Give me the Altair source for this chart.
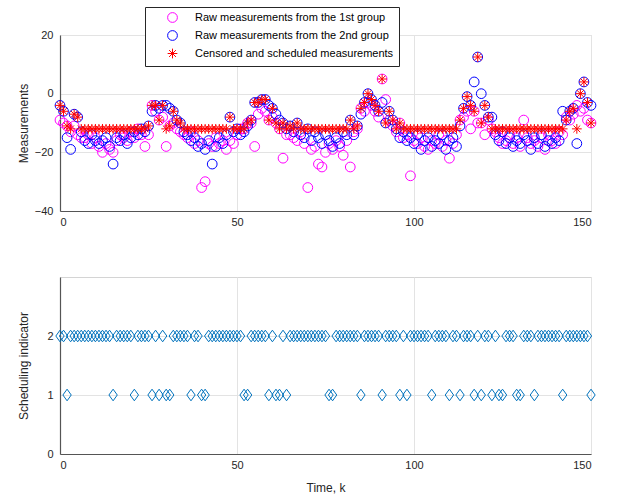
import altair as alt
import pandas as pd

# ---------------- data ----------------
k = list(range(151))

group1 = [
    -9, -10, -11, -13, -11, -14, -15, -15, -14, -17,
    -15, -18, -20, -17, -19, -20, -16, -14, -15, -16,
    -13, -15, -12, -14, -18, -14, -4, -6, -9, -8,
    -18, -11, -10, -12, -13, -14, -15, -13, -17, -16,
    -32, -30, -17, -18, -15, -17, -16, -19, -16, -17,
    -14, -12, -12, -10, -10, -18, -7, -5, -6, -9,
    -8, -10, -12, -22, -14, -14, -15, -16, -13, -17,
    -32, -19, -18, -24, -25, -20, -17, -19, -16, -18,
    -21, -16, -25, -13, -12, -5, -6, -3, -4, -6,
    -8, 5, -2, -9, -11, -13, -10, -15, -14, -28,
    -16, -17, -15, -18, -19, -16, -17, -14, -18, -16,
    -22, -17, -14, -9, -8, -6, -12, -6, -10, -10,
    -14, -9, -12, -13, -15, -17, -16, -14, -17, -15,
    -18, -9, -15, -17, -16, -18, -15, -19, -14, -16,
    -17, -13, -14, -8, -9, -7, -4, -6, -5, -9,
    -10,
]

group2 = [
    -4, -6, -15, -19, -7, -8, -13, -16, -17, -14,
    -16, -17, -16, -15, -18, -24, -15, -16, -14, -17,
    -15, -13, -14, -12, -13, -11, -6, -4, -5, -4,
    -4, -5, -6, -9, -10, -13, -14, -16, -15, -18,
    -17, -19, -16, -24, -18, -15, -17, -14, -8, -13,
    -12, -14, -13, -11, -9, -3, -3, -2, -2, -4,
    -5, -7, -9, -10, -12, -11, -13, -10, -14, -15,
    -12, -16, -13, -15, -17, -14, -16, -18, -15, -17,
    -13, -14, -9, -14, -11, -7, -3, 0, -2, -4,
    -6, -3, -10, -6, -9, -12, -15, -13, -16, -15,
    -17, -14, -19, -16, -15, -18, -16, -17, -14, -19,
    -16, -15, -18, -11, -5, -1, -4, 4, 12.5, 0,
    -4, -8, -8, -14, -16, -13, -17, -15, -18, -16,
    -17, -14, -16, -19, -15, -17, -14, -18, -16, -17,
    -15, -16, -6, -9, -6, -5, -17, 0, 4, -3,
    -4,
]

schedule = [
    2, 2, 1, 2, 2, 2, 2, 2, 2, 2,
    2, 2, 2, 2, 2, 1, 2, 2, 2, 2,
    2, 1, 2, 2, 2, 2, 1, 2, 1, 2,
    1, 1, 2, 2, 2, 2, 2, 1, 2, 2,
    1, 1, 2, 2, 2, 2, 2, 2, 2, 2,
    2, 2, 1, 1, 2, 2, 2, 2, 2, 1,
    2, 1, 1, 2, 1, 2, 2, 2, 2, 2,
    2, 2, 2, 2, 2, 2, 1, 1, 2, 2,
    2, 2, 2, 2, 2, 1, 2, 2, 2, 2,
    2, 1, 2, 2, 2, 2, 1, 2, 1, 2,
    2, 2, 2, 2, 2, 1, 2, 2, 2, 2,
    1, 2, 2, 1, 2, 2, 2, 1, 2, 1,
    2, 2, 1, 2, 1, 1, 2, 2, 2, 1,
    1, 2, 2, 2, 1, 2, 2, 2, 2, 2,
    2, 2, 1, 2, 2, 2, 2, 2, 2, 2,
    1,
]

censor_level = -12

labels = [
    "Raw measurements from the 1st group",
    "Raw measurements from the 2nd group",
    "Censored and scheduled measurements",
]
colors = ["#FF00FF", "#0000FF", "#FF0000"]
asterisk = "M-1,0L1,0M0,-1L0,1M-0.7,-0.7L0.7,0.7M-0.7,0.7L0.7,-0.7"
shapes = ["circle", "circle", asterisk]

rows = []
for i in k:
    rows.append({"k": i, "value": group1[i], "series": labels[0]})
for i in k:
    rows.append({"k": i, "value": group2[i], "series": labels[1]})
for i in k:
    v = group1[i] if schedule[i] == 1 else group2[i]
    rows.append({"k": i, "value": max(v, censor_level), "series": labels[2]})
df = pd.DataFrame(rows)

df2 = pd.DataFrame({"k": k, "s": schedule})

FONT = "Liberation Sans"
xscale = alt.Scale(domain=[0, 150], nice=False, zero=False)

legend = alt.Legend(
    title=None, orient="none", legendX=85, legendY=-28,
    strokeColor="#262626", fillColor="white", padding=5,
    rowPadding=3, symbolOffset=17, labelOffset=17,
    symbolSize=95, symbolStrokeWidth=1, labelFontSize=11,
    labelFont=FONT, labelColor="black", labelLimit=400,
    symbolFillColor="transparent",
)

top = alt.Chart(df).mark_point(filled=False, size=95, opacity=1).encode(
    x=alt.X("k:Q", scale=xscale,
            axis=alt.Axis(values=[0, 50, 100, 150], title=None, labelPadding=5)),
    y=alt.Y("value:Q", scale=alt.Scale(domain=[-40, 20], nice=False),
            axis=alt.Axis(values=[-40, -20, 0, 20], title="Measurements",
                          titleX=-30, titleY=88, labelPadding=7)),
    color=alt.Color("series:N", scale=alt.Scale(domain=labels, range=colors), legend=legend),
    shape=alt.Shape("series:N", scale=alt.Scale(domain=labels, range=shapes), legend=legend),
    strokeWidth=alt.StrokeWidth("series:N", scale=alt.Scale(domain=labels, range=[1, 1, 1.4]),
                                legend=None),
).properties(width=531, height=176)

bottom = alt.Chart(df2).mark_point(
    shape="M0,-1L0.72,0L0,1L-0.72,0Z", filled=False, color="#0072BD",
    size=135, strokeWidth=1, opacity=1,
).encode(
    x=alt.X("k:Q", scale=xscale,
            axis=alt.Axis(values=[0, 50, 100, 150], title="Time, k",
                          labelPadding=5, titlePadding=12)),
    y=alt.Y("s:Q", scale=alt.Scale(domain=[0, 3], nice=False),
            axis=alt.Axis(values=[0, 1, 2], title="Scheduling indicator",
                          titleX=-30, titleY=88.5, labelPadding=7)),
).properties(width=531, height=177)

chart = alt.vconcat(top, bottom, spacing=48).properties(
    padding={"left": 16, "top": 6, "right": 5, "bottom": 2},
    background="white",
).configure_view(
    stroke="#d4d4d4", strokeWidth=1
).configure_axis(
    labelFont=FONT, titleFont=FONT, labelFontSize=11, titleFontSize=12,
    labelColor="#262626", titleColor="#262626", titleFontWeight="normal",
    domainColor="#555555", domainWidth=1.2, grid=True, gridColor="#e3e3e3",
    ticks=False,
)

chart.save("out.html", embed_options={"renderer": "svg", "actions": False})
